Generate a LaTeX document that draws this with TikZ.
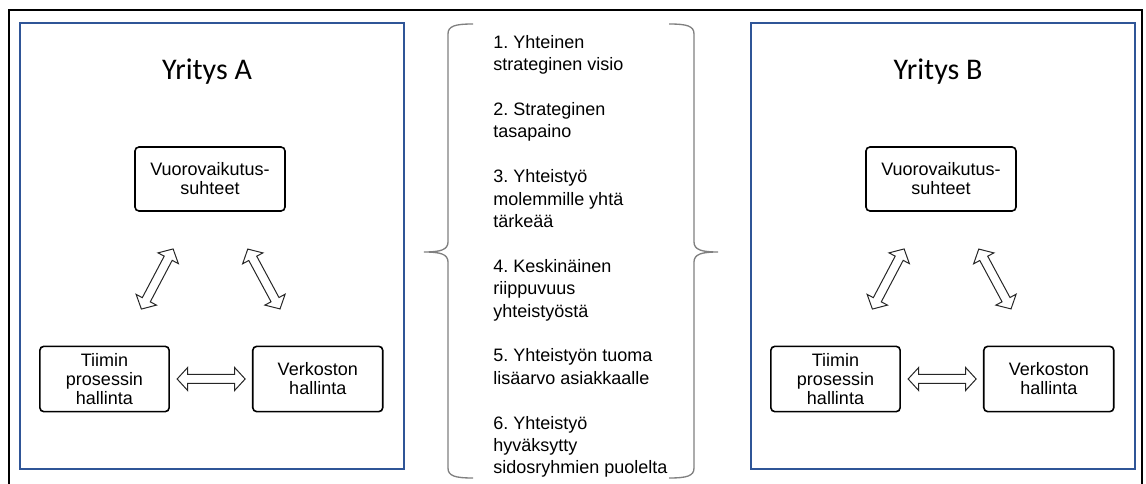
\documentclass[tikz,border=0pt]{standalone}
\usepackage{fontspec}
\setmainfont{Liberation Sans}
\newfontfamily\titlefont{Carlito}
\usepackage{xcolor}
\definecolor{yrblue}{HTML}{2F5597}
\definecolor{sulkugray}{HTML}{808080}
\usepackage{tikz}
\usetikzlibrary{arrows.meta,positioning,shapes.arrows,calc}
\frenchspacing
\tikzset{
  yritysbox/.style={draw=yrblue,line width=1.5pt,minimum width=288pt,minimum height=334.5pt,inner sep=0pt},
  yritystitle/.style={font=\titlefont\fontsize{22.5}{27}\selectfont,inner sep=0pt},
  osabox/.style={draw,rounded corners=3pt,line width=1.2pt,align=center,font=\fontsize{13.5}{14.25}\selectfont,minimum height=49pt,inner sep=0pt},
  kaksinuoli/.style={double arrow,draw=black!85,line width=0.75pt,minimum height=51pt,minimum width=16.5pt,double arrow head extend=5.25pt,double arrow tip angle=95,inner sep=3pt},
  sulku/.style={draw=sulkugray,line width=1pt},
}
\begin{document}
\begin{tikzpicture}[x=0.75pt,y=-0.75pt]
\useasboundingbox (0,0) rectangle (1146,484);
\draw[line width=1.5pt] (9,484) -- (9,10) -- (1142,10) -- (1142,484);
% Yritys A
\node[yritysbox] (ya) at (212,246) {};
\node[yritystitle] (yat) at (207,72) {Yritys A};
\node[osabox,minimum width=112.5pt,minimum height=48pt] (va) at (210,179) {Vuorovaikutus-\\suhteet};
\node[osabox,minimum width=97pt] (ta) at (104.5,379) {Tiimin\\prosessin\\hallinta};
\node[osabox,minimum width=97.5pt,right=61.5pt of ta] (ha) {Verkoston\\hallinta};
\path (va.center)--node[kaksinuoli,sloped]{}(ta.center);\path (va.center)--node[kaksinuoli,sloped]{}(ha.center);\path (ta.center)--node[kaksinuoli,sloped]{}(ha.center);
% Yritys B
\node[yritysbox] (yb) at (943,246) {};
\node[yritystitle] (ybt) at (938,72) {Yritys B};
\node[osabox,minimum width=112.5pt,minimum height=48pt] (vb) at (941,179) {Vuorovaikutus-\\suhteet};
\node[osabox,minimum width=97pt] (tb) at (835.5,379) {Tiimin\\prosessin\\hallinta};
\node[osabox,minimum width=97.5pt,right=61.5pt of tb] (hb) {Verkoston\\hallinta};
\path (vb.center)--node[kaksinuoli,sloped]{}(tb.center);\path (vb.center)--node[kaksinuoli,sloped]{}(hb.center);\path (tb.center)--node[kaksinuoli,sloped]{}(hb.center);
% yhteistyon tekijat
\node[anchor=north west,align=left,inner sep=0pt,font=\fontsize{13.5}{16.8}\selectfont] (tek) at (493,35)
 {1. Yhteinen\\strateginen visio\\[16.8pt]
  2. Strateginen\\tasapaino\\[16.8pt]
  3. Yhteistyö\\molemmille yhtä\\tärkeää\\[16.8pt]
  4. Keskinäinen\\riippuvuus\\yhteistyöstä\\[16.8pt]
  5. Yhteistyön tuoma\\lisäarvo asiakkaalle\\[16.8pt]
  6. Yhteistyö\\hyväksytty\\sidosryhmien puolelta};
\draw[sulku] (473,24) .. controls (455,24) and (448,26) .. (448,34) -- (448,242) .. controls (448,250) and (440,252) .. (424,252) .. controls (440,252) and (448,254) .. (448,262) -- (448,468) .. controls (448,476) and (455,478) .. (473,478);
\draw[sulku] (669,24) .. controls (687,24) and (694,26) .. (694,34) -- (694,242) .. controls (694,250) and (702,252) .. (718,252) .. controls (702,252) and (694,254) .. (694,262) -- (694,468) .. controls (694,476) and (687,478) .. (669,478);
\end{tikzpicture}
\end{document}
